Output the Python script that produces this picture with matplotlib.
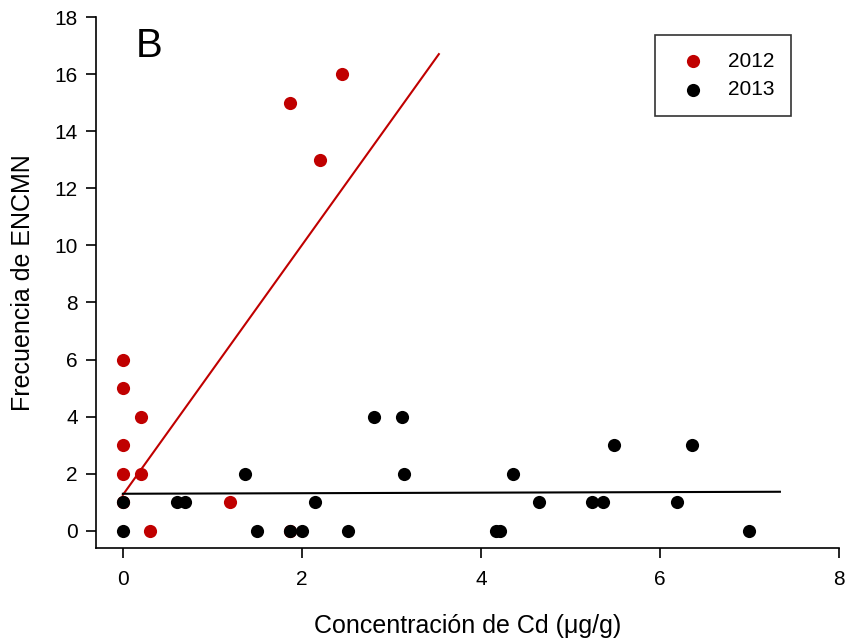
import matplotlib
matplotlib.use("Agg")
import matplotlib.pyplot as plt
import numpy as np

plt.rcParams["font.family"] = ["Liberation Sans", "DejaVu Sans"]

# 2012 points
cd_2012 = [0, 0, 0, 0, 0.2, 0.2, 0.3, 1.2, 1.87, 2.2, 2.45, 0, 1.87]
fr_2012 = [6, 5, 3, 2, 4, 2, 0, 1, 15, 13, 16, 1, 0]
# 2013 points
cd_2013 = [0, 0, 1.36, 0.6, 0.69, 1.5, 1.87, 2.0, 2.15, 2.52, 2.8, 3.12, 3.14,
           4.17, 4.21, 4.36, 4.65, 5.24, 5.36, 5.49, 6.19, 6.36, 7.0]
fr_2013 = [1, 0, 2, 1, 1, 0, 0, 0, 1, 0, 4, 4, 2,
           0, 0, 2, 1, 1, 1, 3, 1, 3, 0]
# fitted lines (start/end)
fit_2012_x = [0.0, 3.53]
fit_2012_y = [1.26, 16.7]
fit_2013_x = [0.0, 7.34]
fit_2013_y = [1.30, 1.37]

RED = "#c00000"

fig = plt.figure(figsize=(8.49, 6.43), dpi=100)
ax = fig.add_axes([96 / 849, 1 - 548 / 643, (839 - 96) / 849, (548 - 17) / 643])

ax.scatter(cd_2012, fr_2012, s=90, color=RED, zorder=3, label="2012", linewidths=0)
ax.scatter(cd_2013, fr_2013, s=90, color="black", zorder=4, label="2013", linewidths=0)
ax.plot(fit_2012_x, fit_2012_y, color=RED, lw=1.5, zorder=2)
ax.plot(fit_2013_x, fit_2013_y, color="black", lw=1.5, zorder=2)

ax.set_xlim(-0.30, 8)
ax.set_ylim(-0.6, 18)
ax.set_xticks([0, 2, 4, 6, 8])
ax.set_yticks(range(0, 19, 2))
ax.spines["top"].set_visible(False)
ax.spines["right"].set_visible(False)
ax.tick_params(direction="out", length=7, width=1.2, labelsize=15)
ax.tick_params(axis="x", pad=9)
ax.tick_params(axis="y", pad=6)
for s in ("left", "bottom"):
    ax.spines[s].set_linewidth(1.2)

ax.set_xlabel("Concentración de Cd (μg/g)", fontsize=18, labelpad=18)
ax.set_ylabel("Frecuencia de ENCMN", fontsize=18, labelpad=14)

ax.text(0.14, 17.0, "B", fontsize=29, ha="left", va="center")

leg = ax.legend(loc="upper left", bbox_to_anchor=((655 - 96) / 743, 1 - (35 - 17) / 531),
                fontsize=15, frameon=True, fancybox=False, handletextpad=0.7,
                borderpad=0.8, labelspacing=0.45, handlelength=2.0, borderaxespad=0)
leg.get_frame().set_edgecolor("black")
leg.get_frame().set_linewidth(1.2)

fig.savefig("out.png", dpi=100)
